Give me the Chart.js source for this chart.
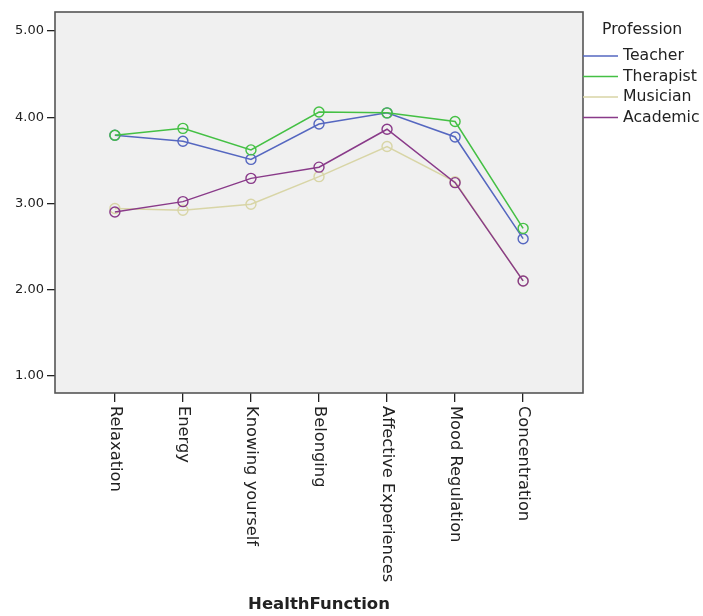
<!DOCTYPE html>
<html>
<head>
<meta charset="utf-8">
<script src="https://cdn.jsdelivr.net/npm/chart.js@4.4.1/dist/chart.umd.min.js"></script>
<style>
  body { margin: 0; background: #fff; }
  #graph-container { width: 703px; height: 616px; }
</style>
</head>
<body>
<div id="graph-container"><canvas id="graph"></canvas></div>
<script>
const categories = ['Relaxation', 'Energy', 'Knowing yourself', 'Belonging', 'Affective Experiences', 'Mood Regulation', 'Concentration'];
const teacher = [3.79, 3.72, 3.51, 3.92, 4.05, 3.77, 2.59];
const therapist = [3.79, 3.87, 3.62, 4.06, 4.05, 3.95, 2.71];
const musician = [2.94, 2.92, 2.99, 3.31, 3.66, 3.25, 2.10];
const academic = [2.90, 3.02, 3.29, 3.42, 3.86, 3.24, 2.10];
const yTicks = [1, 2, 3, 4, 5];

const textColor = '#222';
const font = 'DejaVu Sans';

function points(values) {
  return values.map((v, i) => ({ x: i, y: v }));
}

function series(label, values, color, order) {
  return {
    label: label,
    data: points(values),
    borderColor: color,
    backgroundColor: 'rgba(0,0,0,0)',
    borderWidth: 1.5,
    pointRadius: 5,
    pointBorderWidth: 1.4,
    pointBackgroundColor: 'rgba(0,0,0,0)',
    pointBorderColor: color,
    tension: 0,
    order: order
  };
}

// grey plot background + frame
const plotFrame = {
  id: 'plotFrame',
  beforeDatasetsDraw(chart) {
    const a = chart.chartArea;
    const ctx = chart.ctx;
    ctx.save();
    ctx.fillStyle = '#f0f0f0';
    ctx.fillRect(a.left, a.top, a.right - a.left, a.bottom - a.top);
    ctx.restore();
  },
  afterDraw(chart) {
    const a = chart.chartArea;
    const ctx = chart.ctx;
    ctx.save();
    ctx.strokeStyle = '#555';
    ctx.lineWidth = 1.6;
    ctx.strokeRect(a.left, a.top, a.right - a.left, a.bottom - a.top);
    ctx.restore();
  }
};

// x labels read top to bottom, so they are drawn here
const xLabels = {
  id: 'xLabels',
  afterDraw(chart) {
    const ctx = chart.ctx;
    const xs = chart.scales.x;
    const a = chart.chartArea;
    ctx.save();
    ctx.fillStyle = textColor;
    ctx.font = '16.3px "' + font + '"';
    ctx.textAlign = 'left';
    ctx.textBaseline = 'middle';
    categories.forEach((c, i) => {
      const px = xs.getPixelForValue(i);
      ctx.save();
      ctx.translate(px, a.bottom + 13);
      ctx.rotate(Math.PI / 2);
      ctx.fillText(c, 0, 0);
      ctx.restore();
    });
    ctx.restore();
  }
};

// legend with title, lines touching the plot frame
const sideLegend = {
  id: 'sideLegend',
  afterDraw(chart) {
    const ctx = chart.ctx;
    const a = chart.chartArea;
    ctx.save();
    ctx.fillStyle = textColor;
    ctx.font = '15.7px "' + font + '"';
    ctx.textBaseline = 'middle';
    ctx.fillText('Profession', 602, 30);
    chart.data.datasets.forEach((ds, i) => {
      const y = 56 + i * 20.5;
      ctx.strokeStyle = ds.borderColor;
      ctx.lineWidth = 1.4;
      ctx.beginPath();
      ctx.moveTo(a.right, y);
      ctx.lineTo(a.right + 35, y);
      ctx.stroke();
      ctx.fillText(ds.label, a.right + 40, y);
    });
    ctx.restore();
  }
};

const ctx = document.getElementById('graph').getContext('2d');
const graph = new Chart(ctx, {
  type: 'line',
  data: {
    datasets: [
      series('Teacher', teacher, '#5567c0', 4),
      series('Therapist', therapist, '#44c044', 3),
      series('Musician', musician, '#d8d5a6', 2),
      series('Academic', academic, '#893a89', 1)
    ]
  },
  options: {
    responsive: true,
    maintainAspectRatio: false,
    animation: false,
    layout: { padding: { top: 12, right: 120, left: 0, bottom: 0 } },
    plugins: {
      legend: { display: false },
      tooltip: { enabled: false }
    },
    scales: {
      x: {
        type: 'linear',
        min: -0.88,
        max: 6.88,
        afterBuildTicks: (scale) => { scale.ticks = categories.map((c, i) => ({ value: i })); },
        afterFit: (scale) => { scale.height = 223; },
        ticks: { display: false },
        grid: { drawOnChartArea: false, drawTicks: true, tickLength: 9, color: '#222', lineWidth: 1.3 },
        border: { display: false },
        title: {
          display: true,
          text: 'HealthFunction',
          color: textColor,
          font: { family: font, size: 16.5, weight: 'bold' },
          padding: { top: 0, bottom: 1 }
        }
      },
      y: {
        min: 0.8,
        max: 5.22,
        afterBuildTicks: (scale) => { scale.ticks = yTicks.map(v => ({ value: v })); },
        afterFit: (scale) => { scale.width = 55; },
        ticks: {
          color: textColor,
          padding: 3,
          font: { family: font, size: 13 },
          callback: (v) => Number(v).toFixed(2)
        },
        grid: { drawOnChartArea: false, drawTicks: true, tickLength: 8, color: '#222', lineWidth: 1.3 },
        border: { display: false }
      }
    }
  },
  plugins: [plotFrame, xLabels, sideLegend]
});
</script>
</body>
</html>
